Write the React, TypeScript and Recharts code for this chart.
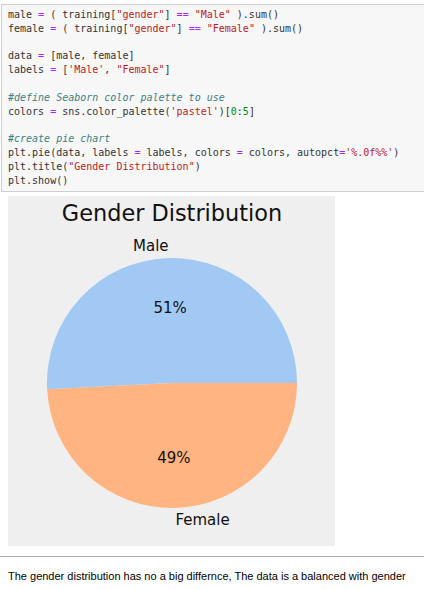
import React from "react";
import { PieChart, Pie, Cell, Customized } from "recharts";

// chart data
const genders = ["Male", "Female"];
const genderShare = [50.8, 49.2];
const pastel = ["#a1c9f4", "#ffb482"];

const chartData = genders.map((g, i) => ({ name: g, value: genderShare[i] }));

// notebook cell source: [text, kind]
type Tok = [string, string];
const codeLines: Tok[][] = [
  [["male ", "n"], ["=", "o"], [" ( training[", "n"], ['"gender"', "s"], ["] ", "n"], ["==", "o"], [" ", "n"], ['"Male"', "s"], [" ).sum()", "n"]],
  [["female ", "n"], ["=", "o"], [" ( training[", "n"], ['"gender"', "s"], ["] ", "n"], ["==", "o"], [" ", "n"], ['"Female"', "s"], [" ).sum()", "n"]],
  [],
  [["data ", "n"], ["=", "o"], [" [male, female]", "n"]],
  [["labels ", "n"], ["=", "o"], [" [", "n"], ["'Male'", "s"], [", ", "n"], ['"Female"', "s"], ["]", "n"]],
  [],
  [["#define Seaborn color palette to use", "c"]],
  [["colors ", "n"], ["=", "o"], [" sns.color_palette(", "n"], ["'pastel'", "s"], [")[", "n"], ["0", "m"], [":", "n"], ["5", "m"], ["]", "n"]],
  [],
  [["#create pie chart", "c"]],
  [["plt.pie(data, labels ", "n"], ["=", "o"], [" labels, colors ", "n"], ["=", "o"], [" colors, autopct", "n"], ["=", "o"], ["'%.0f%%'", "s"], [")", "n"]],
  [["plt.title(", "n"], ['"Gender Distribution"', "s"], [")", "n"]],
  [["plt.show()", "n"]],
];

const tokStyle: Record<string, React.CSSProperties> = {
  n: { color: "#333" },
  o: { color: "#aa22ff" },
  s: { color: "#ba2121" },
  c: { color: "#408080", fontStyle: "italic" },
  m: { color: "#008800" },
};

const RADIAN = Math.PI / 180;
const FONT = "'DejaVu Sans', sans-serif";

function renderLabel(props: any) {
  const { cx, cy, midAngle, outerRadius, percent, name } = props;
  const cos = Math.cos(-midAngle * RADIAN);
  const sin = Math.sin(-midAngle * RADIAN);
  const lx = cx + outerRadius * 1.1 * cos;
  const ly = cy + outerRadius * 1.1 * sin;
  const px = cx + outerRadius * 0.6 * cos;
  const py = cy + outerRadius * 0.6 * sin;
  return (
    <g>
      <text
        x={lx}
        y={ly}
        textAnchor={lx < cx ? "end" : "start"}
        dominantBaseline="central"
        fontFamily={FONT}
        fontSize={15}
        fill="#111"
      >
        {name}
      </text>
      <text
        x={px}
        y={py}
        textAnchor="middle"
        dominantBaseline="central"
        fontFamily={FONT}
        fontSize={15}
        fill="#111"
      >
        {`${Math.round(percent * 100)}%`}
      </text>
    </g>
  );
}

export default function App() {
  return (
    <div
      style={{
        position: "absolute",
        left: 0,
        top: 0,
        width: 424,
        height: 589,
        overflow: "hidden",
        background: "#fff",
      }}
    >
      <div
        style={{
          position: "absolute",
          left: 1,
          top: 4,
          width: 440,
          height: 186,
          background: "#f7f7f7",
          border: "1px solid #cfcfcf",
        }}
      >
        <pre
          style={{
            margin: 0,
            padding: "3px 0 0 6px",
            fontFamily: "'DejaVu Sans Mono', monospace",
            fontSize: 10,
            lineHeight: "13.8px",
          }}
        >
          {codeLines.map((line, i) => (
            <div key={i} style={{ height: 13.8 }}>
              {line.map((t, j) => (
                <span key={j} style={tokStyle[t[1]]}>
                  {t[0]}
                </span>
              ))}
            </div>
          ))}
        </pre>
      </div>

      <div
        style={{
          position: "absolute",
          left: 8,
          top: 196,
          width: 327,
          height: 350,
          background: "#efefef",
        }}
      >
        <PieChart width={327} height={350} margin={{ top: 0, right: 0, bottom: 0, left: 0 }}>
          <Customized
            component={() => (
              <text
                x={164}
                y={17}
                textAnchor="middle"
                dominantBaseline="central"
                fontFamily={FONT}
                fontSize={22.4}
                fill="#111"
              >
                Gender Distribution
              </text>
            )}
          />
          <Pie
            data={chartData}
            dataKey="value"
            nameKey="name"
            cx={164}
            cy={187}
            outerRadius={125}
            startAngle={0}
            endAngle={360}
            stroke="none"
            label={renderLabel}
            labelLine={false}
            isAnimationActive={false}
          >
            {chartData.map((d, i) => (
              <Cell key={d.name} fill={pastel[i]} />
            ))}
          </Pie>
        </PieChart>
      </div>

      <div
        style={{
          position: "absolute",
          left: 0,
          top: 556,
          width: 424,
          height: 1,
          background: "#aaaaaa",
        }}
      />
      <div
        style={{
          position: "absolute",
          left: 8,
          top: 569,
          fontFamily: "'Liberation Sans', Arial, sans-serif",
          fontSize: 11,
          lineHeight: "14px",
          color: "#000",
          whiteSpace: "nowrap",
        }}
      >
        The gender distribution has no a big differnce, The data is a balanced with gender
      </div>
    </div>
  );
}
